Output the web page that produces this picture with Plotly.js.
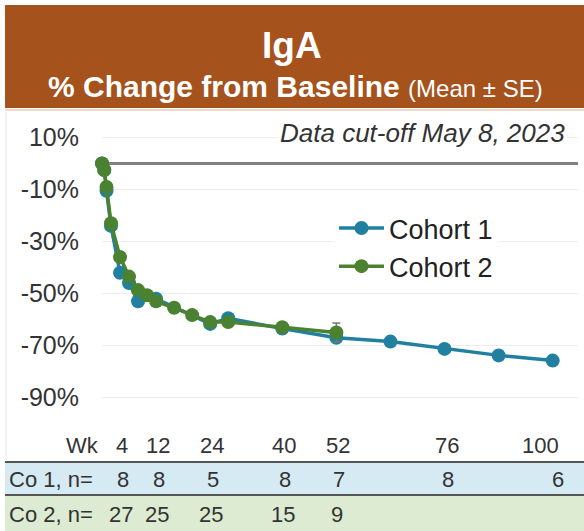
<!DOCTYPE html>
<html>
<head>
<meta charset="utf-8">
<script src="https://cdn.plot.ly/plotly-3.0.1.min.js"></script>
<style>html,body{margin:0;padding:0;background:#fff;}#chart{width:584px;height:531px;}</style>
</head>
<body>
<div id="chart"></div>
<script>
// Cohort 1 (% change from baseline, mean and SE)
const weeks1 = [0, 0.5, 1, 2, 4, 6, 8, 12, 24, 28, 40, 52, 64, 76, 88, 100];
const pct1   = [0, -2.5, -10.5, -24, -42, -46, -53, -52, -61.7, -59.5, -63.5, -67, -68.5, -71.3, -73.8, -75.8];
const se1    = [0, 0.5, 1, 1.5, 1.5, 1.5, 1.5, 1.5, 1.5, 1.5, 1.5, 1.5, 1.5, 1.5, 1.5, 1.8];
// Cohort 2
const weeks2 = [0, 0.5, 1, 2, 4, 6, 8, 10, 12, 16, 20, 24, 28, 40, 52];
const pct2   = [0, -2.5, -9, -23, -36, -43.5, -48.7, -50.7, -53, -55.5, -58.3, -61, -61, -63, -65];
const se2    = [0, 0.5, 1, 1, 1, 1, 1, 1, 1, 1, 1, 1, 1, 1.5, 3.7];
// Table below the chart
const tableWeeks = [4, 12, 24, 40, 52, 76, 100];
const co1N = [8, 8, 5, 8, 7, 8, 6];
const co2N = [27, 25, 25, 15, 9];
const yTicks = [10, -10, -30, -50, -70, -90];

const BLUE = '#21809f', GREEN = '#4a8232';
const FONT = 'Liberation Sans, Arial, sans-serif';
const TFONT = 'Liberation Sans, Arial, sans-serif';
const TSIZE = 22;

const traces = [
  {x: weeks1, y: pct1, name: 'Cohort 1', type: 'scatter', mode: 'lines+markers',
   line: {color: BLUE, width: 3.5}, marker: {color: BLUE, size: 14},
   error_y: {type: 'data', array: se1, color: BLUE, thickness: 1.5, width: 4},
   cliponaxis: false},
  {x: weeks2, y: pct2, name: 'Cohort 2', type: 'scatter', mode: 'lines+markers',
   line: {color: GREEN, width: 3.5}, marker: {color: GREEN, size: 14},
   error_y: {type: 'data', array: se2, color: '#777', thickness: 1.5, width: 4},
   cliponaxis: false}
];

// pixel helpers (plot area: x 102..578, y 115..425)
const L = 102, R = 578, T = 115, B = 425;
const px = p => (p - L) / (R - L);
const py = p => (B - p) / (B - T);

const shapes = [
  {type: 'rect', xref: 'paper', yref: 'paper', x0: px(5), x1: px(584), y0: py(108), y1: py(5),
   fillcolor: '#a5521d', line: {width: 0}, layer: 'below'},
  {type: 'line', xref: 'paper', yref: 'paper', x0: px(5), x1: px(584), y0: py(110), y1: py(110),
   line: {color: '#f3d9c8', width: 2}},
  {type: 'line', xref: 'paper', yref: 'paper', x0: px(6), x1: px(6), y0: py(460), y1: py(112),
   line: {color: '#e6e6e6', width: 1}},
  {type: 'rect', xref: 'paper', yref: 'paper', x0: px(5), x1: px(584), y0: py(494), y1: py(463),
   fillcolor: '#d6eaf3', line: {width: 0}, layer: 'below'},
  {type: 'rect', xref: 'paper', yref: 'paper', x0: px(5), x1: px(584), y0: py(531), y1: py(496),
   fillcolor: '#dcebd2', line: {width: 0}, layer: 'below'},
  {type: 'line', xref: 'paper', yref: 'paper', x0: px(5), x1: px(584), y0: py(462), y1: py(462),
   line: {color: '#555', width: 2}},
  {type: 'line', xref: 'paper', yref: 'paper', x0: px(5), x1: px(584), y0: py(495), y1: py(495),
   line: {color: '#555', width: 2}}
];

const annotations = [
  {text: '<b>IgA</b>', xref: 'paper', yref: 'paper', x: px(292), y: py(46), showarrow: false,
   font: {family: FONT, size: 37, color: '#fff'}, xanchor: 'center', yanchor: 'middle'},
  {text: '<b>% Change from Baseline</b> <span style="font-size:24px">(Mean ± SE)</span>', xref: 'paper', yref: 'paper',
   x: px(295), y: py(86), showarrow: false,
   font: {family: FONT, size: 30, color: '#fff'}, xanchor: 'center', yanchor: 'middle'},
  {text: '<i>Data cut-off May 8, 2023</i>', xref: 'paper', yref: 'paper', x: px(567), y: py(133),
   showarrow: false, bgcolor: '#fff', font: {family: FONT, size: 26, color: '#333'},
   xanchor: 'right', yanchor: 'middle'},
  {text: 'Wk', xref: 'paper', yref: 'paper', x: px(101), y: py(445), showarrow: false,
   font: {family: TFONT, size: TSIZE, color: '#333'}, xanchor: 'right', yanchor: 'middle'},
  {text: 'Co 1, n=', xref: 'paper', yref: 'paper', x: px(7), y: py(479), showarrow: false,
   font: {family: TFONT, size: TSIZE, color: '#333'}, xanchor: 'left', yanchor: 'middle'},
  {text: 'Co 2, n=', xref: 'paper', yref: 'paper', x: px(7), y: py(514), showarrow: false,
   font: {family: TFONT, size: TSIZE, color: '#333'}, xanchor: 'left', yanchor: 'middle'}
];
tableWeeks.forEach((w, i) => {
  const shift = w === 100 ? -12 : 2;
  annotations.push({text: String(w), xref: 'x', yref: 'paper', x: w, y: py(445), xshift: shift,
    showarrow: false, font: {family: TFONT, size: TSIZE, color: '#333'}, xanchor: 'center', yanchor: 'middle'});
  annotations.push({text: String(co1N[i]), xref: 'x', yref: 'paper', x: w, y: py(479), xshift: w === 100 ? 5 : 3,
    showarrow: false, font: {family: TFONT, size: TSIZE, color: '#333'}, xanchor: 'center', yanchor: 'middle'});
  if (i < co2N.length) {
    annotations.push({text: String(co2N[i]), xref: 'x', yref: 'paper', x: w, y: py(514), xshift: 1,
      showarrow: false, font: {family: TFONT, size: TSIZE, color: '#333'}, xanchor: 'center', yanchor: 'middle'});
  }
});

const layout = {
  width: 584, height: 531,
  margin: {l: L, r: 584 - R, t: T, b: 531 - B},
  paper_bgcolor: '#fff', plot_bgcolor: '#fff',
  showlegend: true,
  legend: {x: px(334), y: py(204), xanchor: 'left', yanchor: 'top', bgcolor: '#fff',
    font: {family: FONT, size: 27, color: '#222'}, tracegroupgap: 0, itemwidth: 45},
  xaxis: {range: [0, (R - L) / 4.507], showgrid: false, zeroline: false, showticklabels: false,
    showline: false, ticks: '', fixedrange: true},
  yaxis: {range: [(163.5 - B) / 2.6, (163.5 - T) / 2.6], tickvals: yTicks,
    ticktext: yTicks.map(v => v + '%'), showgrid: true, gridcolor: '#ededed', gridwidth: 1,
    zeroline: true, zerolinecolor: '#808080', zerolinewidth: 2.5, showline: false, ticks: '',
    ticklabelstandoff: 22, tickfont: {family: FONT, size: 25, color: '#333'}, fixedrange: true},
  shapes: shapes,
  annotations: annotations
};

Plotly.newPlot('chart', traces, layout, {displayModeBar: false, staticPlot: true});
</script>
</body>
</html>
